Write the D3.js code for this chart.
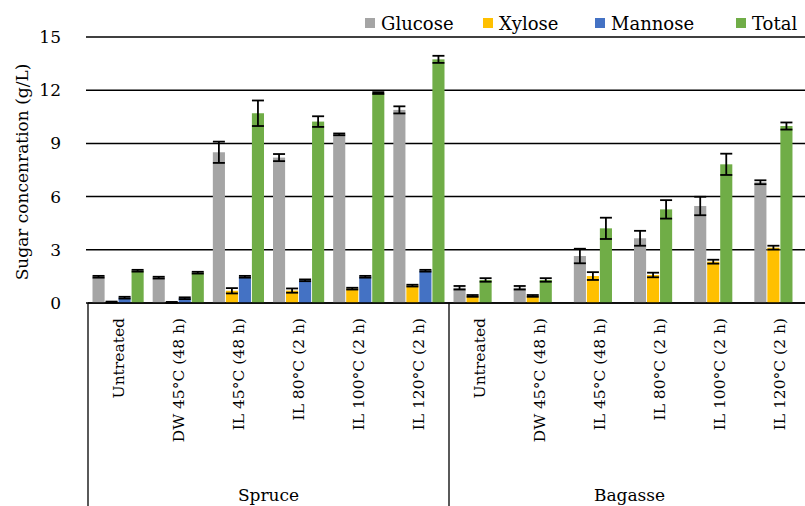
<!DOCTYPE html>
<html>
<head>
<meta charset="utf-8">
<script src="https://cdn.jsdelivr.net/npm/d3@7"></script>
<style>
  body { margin: 0; background: #fff; }
  svg text { font-family: "DejaVu Serif", "Liberation Serif", serif; fill: #000; }
</style>
</head>
<body>
<div id="chart"></div>
<script>
// data
var treatments = ["Untreated", "DW 45°C (48 h)", "IL 45°C (48 h)", "IL 80°C (2 h)", "IL 100°C (2 h)", "IL 120°C (2 h)"];
var materials = ["Spruce", "Bagasse"];
var seriesNames = ["Glucose", "Xylose", "Mannose", "Total"];
var seriesColors = ["#a5a5a5", "#ffc000", "#4472c4", "#70ad47"];
var yTicks = [0, 3, 6, 9, 12, 15];

var spruceGlucose = [1.48, 1.43, 8.5, 8.2, 9.51, 10.89];
var spruceGlucoseErr = [0.05, 0.05, 0.6, 0.2, 0.05, 0.2];
var spruceXylose = [0.05, 0.03, 0.69, 0.7, 0.81, 0.98];
var spruceXyloseErr = [0.03, 0.03, 0.15, 0.12, 0.05, 0.05];
var spruceMannose = [0.3, 0.27, 1.48, 1.28, 1.48, 1.82];
var spruceMannoseErr = [0.05, 0.05, 0.05, 0.05, 0.05, 0.05];
var spruceTotal = [1.82, 1.71, 10.7, 10.23, 11.84, 13.74];
var spruceTotalErr = [0.05, 0.05, 0.72, 0.3, 0.05, 0.2];

var bagasseGlucose = [0.86, 0.86, 2.65, 3.65, 5.47, 6.81];
var bagasseGlucoseErr = [0.1, 0.1, 0.41, 0.42, 0.52, 0.11];
var bagasseXylose = [0.4, 0.4, 1.52, 1.58, 2.33, 3.12];
var bagasseXyloseErr = [0.05, 0.05, 0.22, 0.13, 0.11, 0.11];
var bagasseTotal = [1.3, 1.3, 4.21, 5.28, 7.82, 9.98];
var bagasseTotalErr = [0.1, 0.1, 0.6, 0.52, 0.6, 0.2];

// build bar records; bagasse has no mannose so its bars fill the first 3 slots
var bars = [];
function addSeries(mat, s, vals, errs, slot) {
  vals.forEach(function (v, i) {
    bars.push({ cat: mat + "|" + i, series: s, slot: slot, value: v, err: errs[i] });
  });
}
addSeries("Spruce", 0, spruceGlucose, spruceGlucoseErr, 0);
addSeries("Spruce", 1, spruceXylose, spruceXyloseErr, 1);
addSeries("Spruce", 2, spruceMannose, spruceMannoseErr, 2);
addSeries("Spruce", 3, spruceTotal, spruceTotalErr, 3);
addSeries("Bagasse", 0, bagasseGlucose, bagasseGlucoseErr, 0);
addSeries("Bagasse", 1, bagasseXylose, bagasseXyloseErr, 1);
addSeries("Bagasse", 3, bagasseTotal, bagasseTotalErr, 2);

var W = 805, H = 506;
var plotLeft = 88, plotRight = 810, plotTop = 37, plotBottom = 303;

var cats = [];
materials.forEach(function (m) {
  treatments.forEach(function (t, i) { cats.push(m + "|" + i); });
});

var x = d3.scaleBand().domain(cats).range([plotLeft, plotRight]);
var xs = d3.scaleBand().domain([0, 1, 2, 3]).range([4.5, x.bandwidth() - 4.5]).paddingInner(0.07);
var y = d3.scaleLinear().domain([0, 15]).range([plotBottom, plotTop]);

var svg = d3.select("#chart").append("svg")
  .attr("width", W)
  .attr("height", H);

// gridlines
svg.append("g")
  .selectAll("line")
  .data(yTicks)
  .enter().append("line")
  .attr("x1", plotLeft - 2)
  .attr("x2", W)
  .attr("y1", function (d) { return y(d); })
  .attr("y2", function (d) { return y(d); })
  .style("stroke", "#000")
  .style("stroke-width", 1.5);

svg.append("g")
  .selectAll("text")
  .data(yTicks)
  .enter().append("text")
  .attr("x", 61)
  .attr("y", function (d) { return y(d); })
  .attr("dy", "0.35em")
  .attr("text-anchor", "end")
  .style("font-size", "17px")
  .text(function (d) { return d; });

svg.append("text")
  .attr("transform", "translate(28," + ((plotTop + plotBottom) / 2 + 2) + ") rotate(-90)")
  .attr("text-anchor", "middle")
  .style("font-size", "17px")
  .text("Sugar concenration (g/L)");

// bars
svg.append("g")
  .selectAll("rect")
  .data(bars)
  .enter().append("rect")
  .attr("x", function (d) { return x(d.cat) + xs(d.slot); })
  .attr("width", xs.bandwidth())
  .attr("y", function (d) { return y(d.value); })
  .attr("height", function (d) { return y(0) - y(d.value); })
  .style("fill", function (d) { return seriesColors[d.series]; });

// error bars
var eb = svg.append("g")
  .selectAll("g")
  .data(bars)
  .enter().append("g")
  .attr("transform", function (d) { return "translate(" + (x(d.cat) + xs(d.slot) + xs.bandwidth() / 2) + ",0)"; })
  .style("stroke", "#000")
  .style("stroke-width", 1.8);

eb.append("line")
  .attr("y1", function (d) { return y(d.value + d.err); })
  .attr("y2", function (d) { return y(Math.max(0, d.value - d.err)); });
eb.append("line")
  .attr("x1", -6).attr("x2", 6)
  .attr("y1", function (d) { return y(d.value + d.err); })
  .attr("y2", function (d) { return y(d.value + d.err); });
eb.append("line")
  .attr("x1", -6).attr("x2", 6)
  .attr("y1", function (d) { return y(Math.max(0, d.value - d.err)); })
  .attr("y2", function (d) { return y(Math.max(0, d.value - d.err)); });

// category axis box
svg.append("line")
  .attr("x1", plotLeft).attr("x2", W)
  .attr("y1", plotBottom).attr("y2", plotBottom)
  .style("stroke", "#000").style("stroke-width", 1.5);
[plotLeft, x(materials[1] + "|0")].forEach(function (xx) {
  svg.append("line")
    .attr("x1", xx).attr("x2", xx)
    .attr("y1", plotBottom).attr("y2", H)
    .style("stroke", "#000").style("stroke-width", 1.3);
});

svg.append("g")
  .selectAll("text")
  .data(cats)
  .enter().append("text")
  .attr("transform", function (d) { return "translate(" + (x(d) + x.bandwidth() / 2) + ",318) rotate(-90)"; })
  .attr("dy", "0.35em")
  .attr("text-anchor", "end")
  .style("font-size", "15.5px")
  .text(function (d) { return treatments[+d.split("|")[1]]; });

materials.forEach(function (m) {
  var x0 = x(m + "|0"), x1 = x(m + "|5") + x.bandwidth();
  svg.append("text")
    .attr("x", (x0 + x1) / 2)
    .attr("y", 501)
    .attr("text-anchor", "middle")
    .style("font-size", "17px")
    .text(m);
});

// legend
var legendX = [365, 483, 595, 736];
var lg = svg.append("g")
  .selectAll("g")
  .data(seriesNames)
  .enter().append("g")
  .attr("transform", function (d, i) { return "translate(" + legendX[i] + ",0)"; });
lg.append("rect")
  .attr("y", 18).attr("width", 10).attr("height", 10)
  .style("fill", function (d, i) { return seriesColors[i]; });
lg.append("text")
  .attr("x", 16).attr("y", 30)
  .style("font-size", "18px")
  .text(function (d) { return d; });
</script>
</body>
</html>
